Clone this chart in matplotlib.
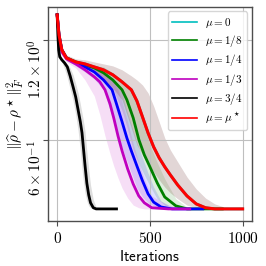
import matplotlib
matplotlib.use("Agg")
import matplotlib.pyplot as plt
from matplotlib.lines import Line2D
from matplotlib.ticker import NullLocator

plt.rcParams["mathtext.fontset"] = "cm"

# values (mean curve and band edges per mu)
red_it = [0, 10, 25, 50, 100, 150, 200, 250, 300, 350, 400, 430, 460, 490, 520, 550, 580, 610, 650, 700, 750, 800, 850, 900, 1000]
red_mean = [1.427, 1.242, 1.120, 1.059, 1.030, 1.016, 0.995, 0.975, 0.942, 0.897, 0.849, 0.786, 0.704, 0.630, 0.572, 0.530, 0.498, 0.471, 0.439, 0.407, 0.385, 0.375, 0.372, 0.372, 0.372]
red_hi = [1.427, 1.260, 1.143, 1.082, 1.052, 1.045, 1.030, 1.016, 1.002, 0.975, 0.935, 0.909, 0.878, 0.831, 0.759, 0.680, 0.608, 0.560, 0.515, 0.464, 0.427, 0.401, 0.385, 0.377, 0.372]
red_lo = [1.427, 1.225, 1.097, 1.037, 1.009, 0.988, 0.961, 0.909, 0.860, 0.792, 0.652, 0.580, 0.541, 0.508, 0.481, 0.455, 0.433, 0.416, 0.399, 0.382, 0.375, 0.372, 0.372, 0.372, 0.372]

# mu = 0 sits under the mu* curve
cyan_it = red_it
cyan_mean = red_mean
cyan_hi = red_hi
cyan_lo = red_lo

green_it = [0, 10, 25, 50, 100, 150, 200, 250, 300, 350, 376, 410, 441, 470, 500, 540, 580, 640, 700, 800, 890]
green_mean = [1.427, 1.242, 1.120, 1.059, 1.030, 1.009, 0.988, 0.955, 0.909, 0.849, 0.792, 0.699, 0.600, 0.541, 0.498, 0.445, 0.404, 0.380, 0.372, 0.372, 0.372]
green_hi = [1.427, 1.260, 1.135, 1.074, 1.045, 1.023, 1.002, 0.995, 0.955, 0.909, 0.878, 0.825, 0.739, 0.666, 0.580, 0.512, 0.458, 0.399, 0.377, 0.372, 0.372]
green_lo = [1.427, 1.225, 1.104, 1.045, 1.016, 0.995, 0.968, 0.922, 0.860, 0.734, 0.657, 0.560, 0.508, 0.471, 0.436, 0.399, 0.382, 0.375, 0.372, 0.372, 0.372]

blue_it = [0, 10, 25, 50, 100, 150, 200, 250, 296, 320, 350, 376, 400, 430, 460, 490, 520, 560, 620, 700, 785]
blue_mean = [1.427, 1.242, 1.120, 1.059, 1.023, 0.995, 0.961, 0.909, 0.849, 0.770, 0.680, 0.608, 0.556, 0.501, 0.452, 0.413, 0.390, 0.377, 0.372, 0.372, 0.372]
blue_hi = [1.427, 1.260, 1.135, 1.074, 1.037, 1.016, 0.988, 0.948, 0.909, 0.878, 0.831, 0.734, 0.666, 0.588, 0.530, 0.477, 0.433, 0.393, 0.377, 0.372, 0.372]
blue_lo = [1.427, 1.225, 1.104, 1.045, 1.002, 0.961, 0.916, 0.849, 0.704, 0.639, 0.568, 0.519, 0.477, 0.430, 0.404, 0.388, 0.380, 0.372, 0.372, 0.372, 0.372]

mag_it = [0, 10, 25, 50, 100, 150, 200, 230, 258, 285, 305, 328, 350, 380, 410, 440, 470, 510, 600, 715]
mag_mean = [1.427, 1.234, 1.104, 1.052, 1.016, 0.975, 0.929, 0.897, 0.849, 0.770, 0.699, 0.617, 0.556, 0.491, 0.442, 0.407, 0.388, 0.375, 0.372, 0.372]
mag_hi = [1.427, 1.251, 1.127, 1.074, 1.037, 1.009, 0.982, 0.961, 0.942, 0.916, 0.891, 0.849, 0.781, 0.680, 0.584, 0.512, 0.458, 0.407, 0.381, 0.372]
mag_lo = [1.427, 1.217, 1.082, 1.030, 0.988, 0.909, 0.814, 0.714, 0.617, 0.545, 0.501, 0.461, 0.430, 0.401, 0.382, 0.375, 0.372, 0.372, 0.372, 0.372]

black_it = [0, 4, 8, 14, 25, 40, 55, 70, 86, 100, 113, 125, 134, 140, 150, 160, 170, 180, 195, 210, 320]
black_mean = [1.427, 1.242, 1.120, 1.067, 1.045, 1.023, 0.995, 0.935, 0.866, 0.808, 0.739, 0.680, 0.630, 0.580, 0.505, 0.445, 0.410, 0.388, 0.375, 0.372, 0.372]
black_hi = [1.427, 1.359, 1.217, 1.120, 1.059, 1.037, 1.016, 0.988, 0.942, 0.885, 0.831, 0.770, 0.723, 0.694, 0.639, 0.556, 0.491, 0.439, 0.396, 0.377, 0.372]
black_lo = [1.427, 1.159, 1.089, 1.059, 1.030, 0.982, 0.922, 0.854, 0.786, 0.714, 0.639, 0.556, 0.491, 0.458, 0.416, 0.393, 0.380, 0.375, 0.372, 0.372, 0.372]

labels = [r"$\mu = 0$", r"$\mu = 1/8$", r"$\mu = 1/4$", r"$\mu = 1/3$", r"$\mu = 3/4$", r"$\mu = \mu^\star$"]
colors = ["c", "g", "b", "m", "k", "r"]
series = [
    (cyan_it, cyan_mean, cyan_lo, cyan_hi),
    (green_it, green_mean, green_lo, green_hi),
    (blue_it, blue_mean, blue_lo, blue_hi),
    (mag_it, mag_mean, mag_lo, mag_hi),
    (black_it, black_mean, black_lo, black_hi),
    (red_it, red_mean, red_lo, red_hi),
]

fig = plt.figure(figsize=(2.66, 2.66), dpi=100)
ax = fig.add_axes([0.180, 0.169, 0.767, 0.805])

for (it, m, lo, hi), c in zip(series, colors):
    ax.fill_between(it, lo, hi, color=c, alpha=0.13, lw=0)
for (it, m, lo, hi), c in zip(series, colors):
    ax.plot(it, m, color=c, lw=2.2 if c == "r" else 2.0)

ax.set_yscale("log")
ax.set_xlim(-50, 1050)
ax.set_ylim(0.342, 1.508)
ax.set_xticks([0, 500, 1000], labels=["$0$", "$500$", "$1000$"])
ax.yaxis.set_minor_locator(NullLocator())
ax.set_yticks([0.6, 1.2], labels=[r"$6\times10^{-1}$", r"$1.2\times10^{0}$"])
ax.tick_params(labelsize=11, color="0.3", length=3.5)
ax.tick_params(axis="y", pad=5.5)
for t in ax.get_yticklabels():
    t.set_rotation(90)
    t.set_rotation_mode("anchor")
    t.set_ha("right")
    t.set_va("center")
ax.grid(True, color="0.75", lw=0.8)
for s in ax.spines.values():
    s.set_color("0.3")
    s.set_linewidth(1.0)

ax.set_xlabel(r"$\mathsf{Iterations}$", fontsize=11, labelpad=2)
ax.set_ylabel(r"$\|\widehat{\rho} - \rho^\star\|_F^2$", fontsize=11)
ax.yaxis.set_label_coords(-0.10, 0.5)

handles = [Line2D([], [], color=c, lw=1.2) for c in colors]
ax.legend(handles, labels, loc="upper right", fontsize=8, handlelength=2.2,
          borderaxespad=0.4, labelspacing=0.3)

fig.savefig("out.png", dpi=100)
